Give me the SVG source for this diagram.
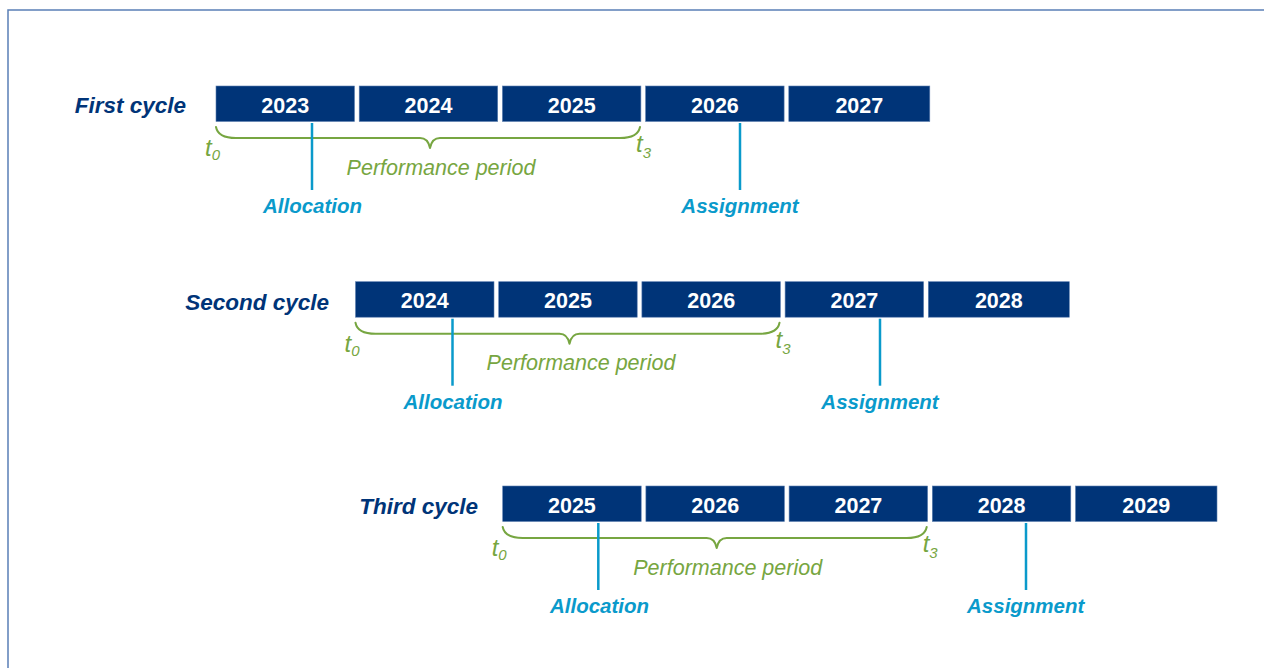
<svg xmlns="http://www.w3.org/2000/svg" width="1264" height="668" viewBox="0 0 1264 668">
  <defs>
    <style>
      .frame { fill: none; stroke: #5a7fb6; stroke-width: 1.5; }
      .year rect { fill: #003478; stroke: #5c7fb0; stroke-width: 0.6; }
      .year text { fill: #ffffff; font-family: "Liberation Sans", Arial, sans-serif; font-weight: bold; font-size: 21.5px; text-anchor: middle; }
      .cycle { fill: #003478; font-family: "Liberation Sans", Arial, sans-serif; font-weight: bold; font-style: italic; font-size: 22.5px; text-anchor: end; }
      .brace { fill: none; stroke: #77a641; stroke-width: 2; stroke-linecap: round; stroke-linejoin: round; }
      .marker { stroke: #0a9acb; stroke-width: 2.5; }
      .green { fill: #77a641; font-family: "Liberation Sans", Arial, sans-serif; font-style: italic; }
      .period { font-size: 21.5px; text-anchor: middle; }
      .tick { font-size: 24px; }
      .sub { font-size: 15px; }
      .event { fill: #0a9acb; font-family: "Liberation Sans", Arial, sans-serif; font-weight: bold; font-style: italic; font-size: 20.5px; text-anchor: middle; }
    </style>
    <!-- one brace spanning the three-year performance period, origin at the first box's left edge -->
    <path id="brace" class="brace" d="M 0 41 Q 2 52 20 52 L 204 52 Q 212 52 214 62 Q 216 52 224 52 L 404 52 Q 422 52 424 41"/>
  </defs>

  <rect class="frame" x="8" y="10" width="1270" height="680"/>

  <!-- cycle titles -->
  <text class="cycle" x="186" y="113">First cycle</text>
  <text class="cycle" x="329" y="310">Second cycle</text>
  <text class="cycle" x="478" y="514">Third cycle</text>

  <!-- First cycle -->
  <g id="cycle1" transform="translate(216,86)">
    <g id="c1-2023" class="year"><rect x="0" y="0" width="138.5" height="35.5"/><text x="69.2" y="26.5">2023</text></g>
    <g id="c1-2024" class="year"><rect x="143.2" y="0" width="138.5" height="35.5"/><text x="212.5" y="26.5">2024</text></g>
    <g id="c1-2025" class="year"><rect x="286.4" y="0" width="138.5" height="35.5"/><text x="355.7" y="26.5">2025</text></g>
    <g id="c1-2026" class="year"><rect x="429.6" y="0" width="138.5" height="35.5"/><text x="498.9" y="26.5">2026</text></g>
    <g id="c1-2027" class="year"><rect x="572.8" y="0" width="141" height="35.5"/><text x="643.3" y="26.5">2027</text></g>
  </g>

  <!-- Second cycle -->
  <g id="cycle2" transform="translate(355.5,281.7)">
    <g id="c2-2024" class="year"><rect x="0" y="0" width="138.5" height="35.5"/><text x="69.2" y="26.5">2024</text></g>
    <g id="c2-2025" class="year"><rect x="143.2" y="0" width="138.5" height="35.5"/><text x="212.5" y="26.5">2025</text></g>
    <g id="c2-2026" class="year"><rect x="286.4" y="0" width="138.5" height="35.5"/><text x="355.7" y="26.5">2026</text></g>
    <g id="c2-2027" class="year"><rect x="429.6" y="0" width="138.5" height="35.5"/><text x="498.9" y="26.5">2027</text></g>
    <g id="c2-2028" class="year"><rect x="572.8" y="0" width="141" height="35.5"/><text x="643.3" y="26.5">2028</text></g>
  </g>

  <!-- Third cycle -->
  <g id="cycle3" transform="translate(502.7,486)">
    <g id="c3-2025" class="year"><rect x="0" y="0" width="138.5" height="35.5"/><text x="69.2" y="26.5">2025</text></g>
    <g id="c3-2026" class="year"><rect x="143.2" y="0" width="138.5" height="35.5"/><text x="212.5" y="26.5">2026</text></g>
    <g id="c3-2027" class="year"><rect x="286.4" y="0" width="138.5" height="35.5"/><text x="355.7" y="26.5">2027</text></g>
    <g id="c3-2028" class="year"><rect x="429.6" y="0" width="138.5" height="35.5"/><text x="498.9" y="26.5">2028</text></g>
    <g id="c3-2029" class="year"><rect x="572.8" y="0" width="141.5" height="35.5"/><text x="643.5" y="26.5">2029</text></g>
  </g>

  <!-- braces, allocation/assignment markers -->
  <g id="connectors">
    <g transform="translate(216,86)">
      <use href="#brace"/>
      <line class="marker" x1="96" y1="37" x2="96" y2="104"/>
      <line class="marker" x1="524" y1="37" x2="524" y2="104"/>
    </g>
    <g transform="translate(355.5,281.7)">
      <use href="#brace"/>
      <line class="marker" x1="97" y1="37" x2="97" y2="104"/>
      <line class="marker" x1="524.5" y1="37" x2="524.5" y2="104"/>
    </g>
    <g transform="translate(502.7,486)">
      <use href="#brace"/>
      <line class="marker" x1="95.6" y1="37" x2="95.6" y2="104"/>
      <line class="marker" x1="523.3" y1="37" x2="523.3" y2="104"/>
    </g>
  </g>

  <g id="labels">
    <g transform="translate(216,86)">
      <text class="green tick" x="-11" y="70">t<tspan class="sub" dy="4">0</tspan></text>
      <text class="green tick" x="420" y="66">t<tspan class="sub" dy="6">3</tspan></text>
      <text class="green period" x="225" y="88.5">Performance period</text>
      <text class="event" x="96.5" y="127">Allocation</text>
      <text class="event" x="524" y="127">Assignment</text>
    </g>
    <g transform="translate(355.5,281.7)">
      <text class="green tick" x="-11" y="70">t<tspan class="sub" dy="4">0</tspan></text>
      <text class="green tick" x="420" y="66">t<tspan class="sub" dy="6">3</tspan></text>
      <text class="green period" x="225.5" y="88.5">Performance period</text>
      <text class="event" x="97.5" y="127">Allocation</text>
      <text class="event" x="524.5" y="127">Assignment</text>
    </g>
    <g transform="translate(502.7,486)">
      <text class="green tick" x="-11" y="70">t<tspan class="sub" dy="4">0</tspan></text>
      <text class="green tick" x="420" y="66">t<tspan class="sub" dy="6">3</tspan></text>
      <text class="green period" x="225" y="88.5">Performance period</text>
      <text class="event" x="96.8" y="127">Allocation</text>
      <text class="event" x="523" y="127">Assignment</text>
    </g>
  </g>
</svg>
